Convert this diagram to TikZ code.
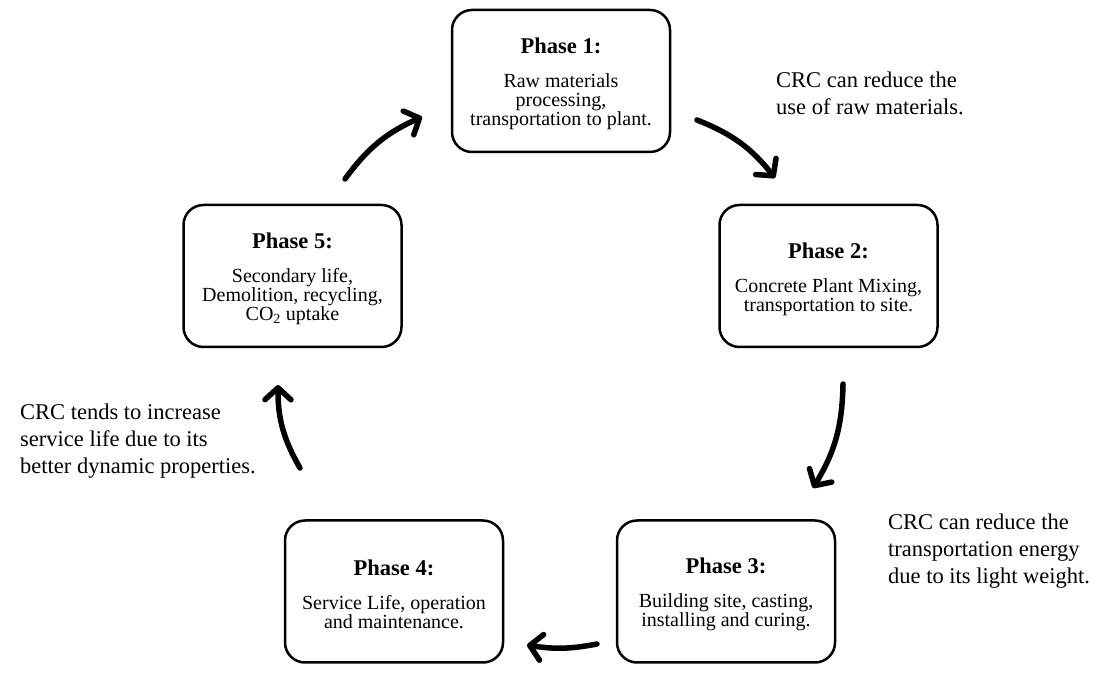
\documentclass[tikz,border=0pt]{standalone}
\usepackage{fontspec}
\setmainfont{Liberation Serif}
\usetikzlibrary{arrows.meta}
\newcommand\phasetitle[1]{{\fontsize{22.5}{19}\selectfont\bfseries\rule{0pt}{22pt}#1}\\[15pt]}
\begin{document}
\begin{tikzpicture}[x=1pt,y=1pt,
  phase/.style={draw, line width=2.5pt, rounded corners=20pt, minimum width=218pt, minimum height=142pt, align=center, inner sep=0pt, font=\fontsize{20}{19}\selectfont},
  note/.style={align=left, inner sep=0pt, anchor=west, font=\fontsize{22.5}{27}\selectfont},
  flow/.style={line width=5.5pt, line cap=round, -{Straight Barb[length=12pt,width=26pt,round]}, bend left=15}]
\useasboundingbox (0,0) rectangle (1102,684);
\fill[white] (0,0) rectangle (1102,684);

\node[phase] (p1) at (561,603) {\phasetitle{Phase 1:}Raw materials\\processing,\\transportation to plant.};
\node[phase] (p2) at (828.5,408) {\phasetitle{Phase 2:}Concrete Plant Mixing,\\transportation to site.};
\node[phase] (p3) at (726,92.5) {\phasetitle{Phase 3:}Building site, casting,\\installing and curing.};
\node[phase] (p4) at (394,92.5) {\phasetitle{Phase 4:}Service Life, operation\\and maintenance.};
\node[phase] (p5) at (292.5,408) {\phasetitle{Phase 5:}Secondary life,\\Demolition, recycling,\\CO\textsubscript{2} uptake};

\node[note] (n1) at (776,591) {CRC can reduce the\\use of raw materials.};
\node[note] (n2) at (888,133) {CRC can reduce the\\transportation energy\\due to its light weight.};
\node[note] (n3) at (20,243) {CRC tends to increase\\service life due to its\\better dynamic properties.};

\coordinate (a1s) at (697,564); \coordinate (a1e) at (775,506);
\coordinate (a2s) at (843,300); \coordinate (a2e) at (813,196);
\coordinate (a3s) at (597,40);  \coordinate (a3e) at (527,39);
\coordinate (a4s) at (300,216); \coordinate (a4e) at (278,299);
\coordinate (a5s) at (345,505); \coordinate (a5e) at (422,567);

\draw[flow] (a1s) to (a1e);
\draw[flow] (a2s) to (a2e);
\draw[flow, bend left=10] (a3s) to (a3e);
\draw[flow] (a4s) to (a4e);
\draw[flow] (a5s) to (a5e);
\end{tikzpicture}
\end{document}
